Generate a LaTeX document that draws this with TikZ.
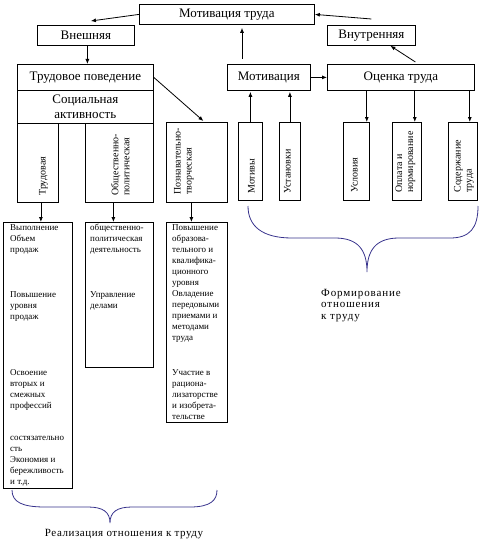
\documentclass[tikz,border=0pt]{standalone}
\usepackage{fontspec}
\setmainfont{Liberation Serif}
\usetikzlibrary{arrows.meta}
\definecolor{bracecol}{RGB}{55,50,140}
\begin{document}
\begin{tikzpicture}[x=1pt,y=-1pt,
  box/.style={draw, line width=0.8pt, inner sep=0pt, anchor=north west, align=center, font=\fontsize{13}{15}\selectfont},
  ebox/.style={draw, line width=0.8pt, inner sep=0pt, anchor=north west},
  vlab/.style={rotate=90, anchor=west, inner sep=0pt, align=left, font=\fontsize{10}{11}\selectfont},
  tlab/.style={anchor=north west, inner sep=0pt, align=left, font=\fontsize{9}{11}\selectfont},
  arr/.style={-{Latex[length=5pt,width=4pt]}, line width=0.8pt},
  brace/.style={draw=bracecol, line width=0.8pt},
  caption/.style={inner sep=0pt, align=left}]
\useasboundingbox (0,0) rectangle (484,543);
% top level
\node[box, minimum width=175pt, minimum height=20pt] (top) at (139,4) {Мотивация труда};
\node[box, minimum width=97pt, minimum height=20pt] (vn) at (37,25) {Внешняя};
\node[box, minimum width=88pt, minimum height=20pt] (vt) at (327,25) {Внутренняя};
% left block
\node[box, minimum width=136pt, minimum height=26pt] (tp) at (17,64) {Трудовое поведение};
\node[box, minimum width=136pt, minimum height=33pt] (sa) at (17,90) {Социальная\\активность};
\node[ebox, minimum width=41pt, minimum height=79pt] (c1) at (17,123) {};
\node[ebox, minimum width=68pt, minimum height=79pt] (c2) at (85,123) {};
\node[ebox, minimum width=61pt, minimum height=80pt] (c3) at (166,122) {};
\node[vlab] (c1t) at ([xshift=5.5pt,yshift=7pt]c1.south) {Трудовая};
\node[vlab] (c2t) at ([xshift=1pt,yshift=7pt]c2.south) {Общественно-\\политическая};
\node[vlab] (c3t) at ([xshift=-13pt,yshift=8pt]c3.south) {Познавательно-\\творческая};
% right block
\node[box, minimum width=83pt, minimum height=26pt] (mot) at (227,64) {Мотивация};
\node[box, minimum width=147pt, minimum height=26pt] (ot) at (327,64) {Оценка труда};
\node[ebox, minimum width=24pt, minimum height=78pt] (m1) at (238,122) {};
\node[ebox, minimum width=21pt, minimum height=78pt] (m2) at (279,122) {};
\node[ebox, minimum width=26pt, minimum height=78pt] (o1) at (343,122) {};
\node[ebox, minimum width=29pt, minimum height=78pt] (o2) at (392,122) {};
\node[ebox, minimum width=29pt, minimum height=78pt] (o3) at (448,122) {};
\node[vlab] (m1t) at ([xshift=1pt,yshift=7pt]m1.south) {Мотивы};
\node[vlab] (m2t) at ([xshift=-2.5pt,yshift=7pt]m2.south) {Установки};
\node[vlab] (o1t) at ([xshift=-2pt,yshift=8pt]o1.south) {Условия};
\node[vlab] (o2t) at ([xshift=-1.5pt,yshift=8pt]o2.south) {Оплата и\\нормирование};
\node[vlab] (o3t) at ([xshift=1pt,yshift=8pt]o3.south) {Содержание\\труда};
% bottom boxes
\node[ebox, minimum width=69pt, minimum height=266pt] (b1) at (3,222) {};
\node[ebox, minimum width=68pt, minimum height=145pt] (b2) at (85,222) {};
\node[ebox, minimum width=61pt, minimum height=200pt] (b3) at (166,222) {};
\node[tlab] (b1a) at (10,224) {Выполнение\\Объем\\продаж};
\node[tlab] (b1b) at (10,291) {Повышение\\уровня\\продаж};
\node[tlab] (b1c) at (10,369) {Освоение\\вторых и\\смежных\\профессий};
\node[tlab] (b1d) at (10,436) {состязательно\\сть\\Экономия и\\бережливость\\и т.д.};
\node[tlab] (b2a) at (90,224) {общественно-\\политическая\\деятельность};
\node[tlab] (b2b) at (90,291) {Управление\\делами};
\node[tlab] (b3a) at (172,224) {Повышение\\образова-\\тельного и\\квалифика-\\ционного\\уровня\\Овладение\\передовыми\\приемами и\\методами\\труда};
\node[tlab] (b3b) at (172,369) {Участие в\\рациона-\\лизаторстве\\и изобрета-\\тельстве};
% arrows
\draw[arr] (top.west) -- ([xshift=5pt,yshift=4pt]vn.north);
\draw[arr] ([yshift=6pt]vt.north) -- (top.east);
\draw[arr] ([xshift=1.5pt]vn.south) -- ([xshift=1.5pt]vn.south |- tp.north);
\draw[arr] (tp.east) -- ([xshift=6.5pt,yshift=1pt]c3.north);
\draw[arr] ([xshift=15pt,yshift=5pt]mot.north west) -- ([xshift=15pt,yshift=-3pt]mot.north west |- top.south);
\draw[arr] (mot.east) -- (ot.west);
\draw[arr] ([xshift=14.5pt,yshift=2pt]ot.north) -- ([xshift=19pt]vt.south);
\draw[arr] (m1.north) -- ([yshift=-1pt]m1.north |- mot.south);
\draw[arr] (m2.north) -- ([yshift=-1pt]m2.north |- mot.south);
\draw[arr] ([xshift=-3pt]o1.north east |- ot.south) -- ([xshift=-3pt]o1.north east);
\draw[arr] ([xshift=-7pt]o2.north east |- ot.south) -- ([xshift=-7pt]o2.north east);
\draw[arr] ([xshift=-8pt]o3.north east |- ot.south) -- ([xshift=-8pt]o3.north east);
\draw[arr] ([xshift=3pt]c1.south) -- ([xshift=3pt]c1.south |- b1.north);
\draw[arr] ([xshift=-6pt]c2.south) -- ([xshift=-6pt]c2.south |- b2.north);
\draw[arr] ([xshift=-5.5pt]c3.south) -- ([xshift=-5.5pt]c3.south |- b3.north);
% braces
\draw[brace] (12,490) .. controls (12,502) and (22,507) .. (45,507) -- (88,507)
  .. controls (103,507) and (110,512) .. (110,523)
  .. controls (110,512) and (117,507) .. (132,507) -- (190,507)
  .. controls (211,507) and (217,500) .. (217,490);
\draw[brace] (248,206) .. controls (248,226) and (262,238) .. (292,238) -- (335,238)
  .. controls (358,238) and (367,250) .. (367,272)
  .. controls (367,250) and (376,238) .. (399,238) -- (450,238)
  .. controls (470,238) and (478,228) .. (478,206);
% captions
\node[caption, font=\fontsize{11}{12}\selectfont\addfontfeatures{LetterSpace=5}] (cap1) at (124,534) {Реализация отношения к труду};
\node[caption, anchor=north west, font=\fontsize{11}{11.5}\selectfont\addfontfeatures{LetterSpace=8}] (cap2) at (321,289) {Формирование\\отношения\\к труду};
\end{tikzpicture}
\end{document}
